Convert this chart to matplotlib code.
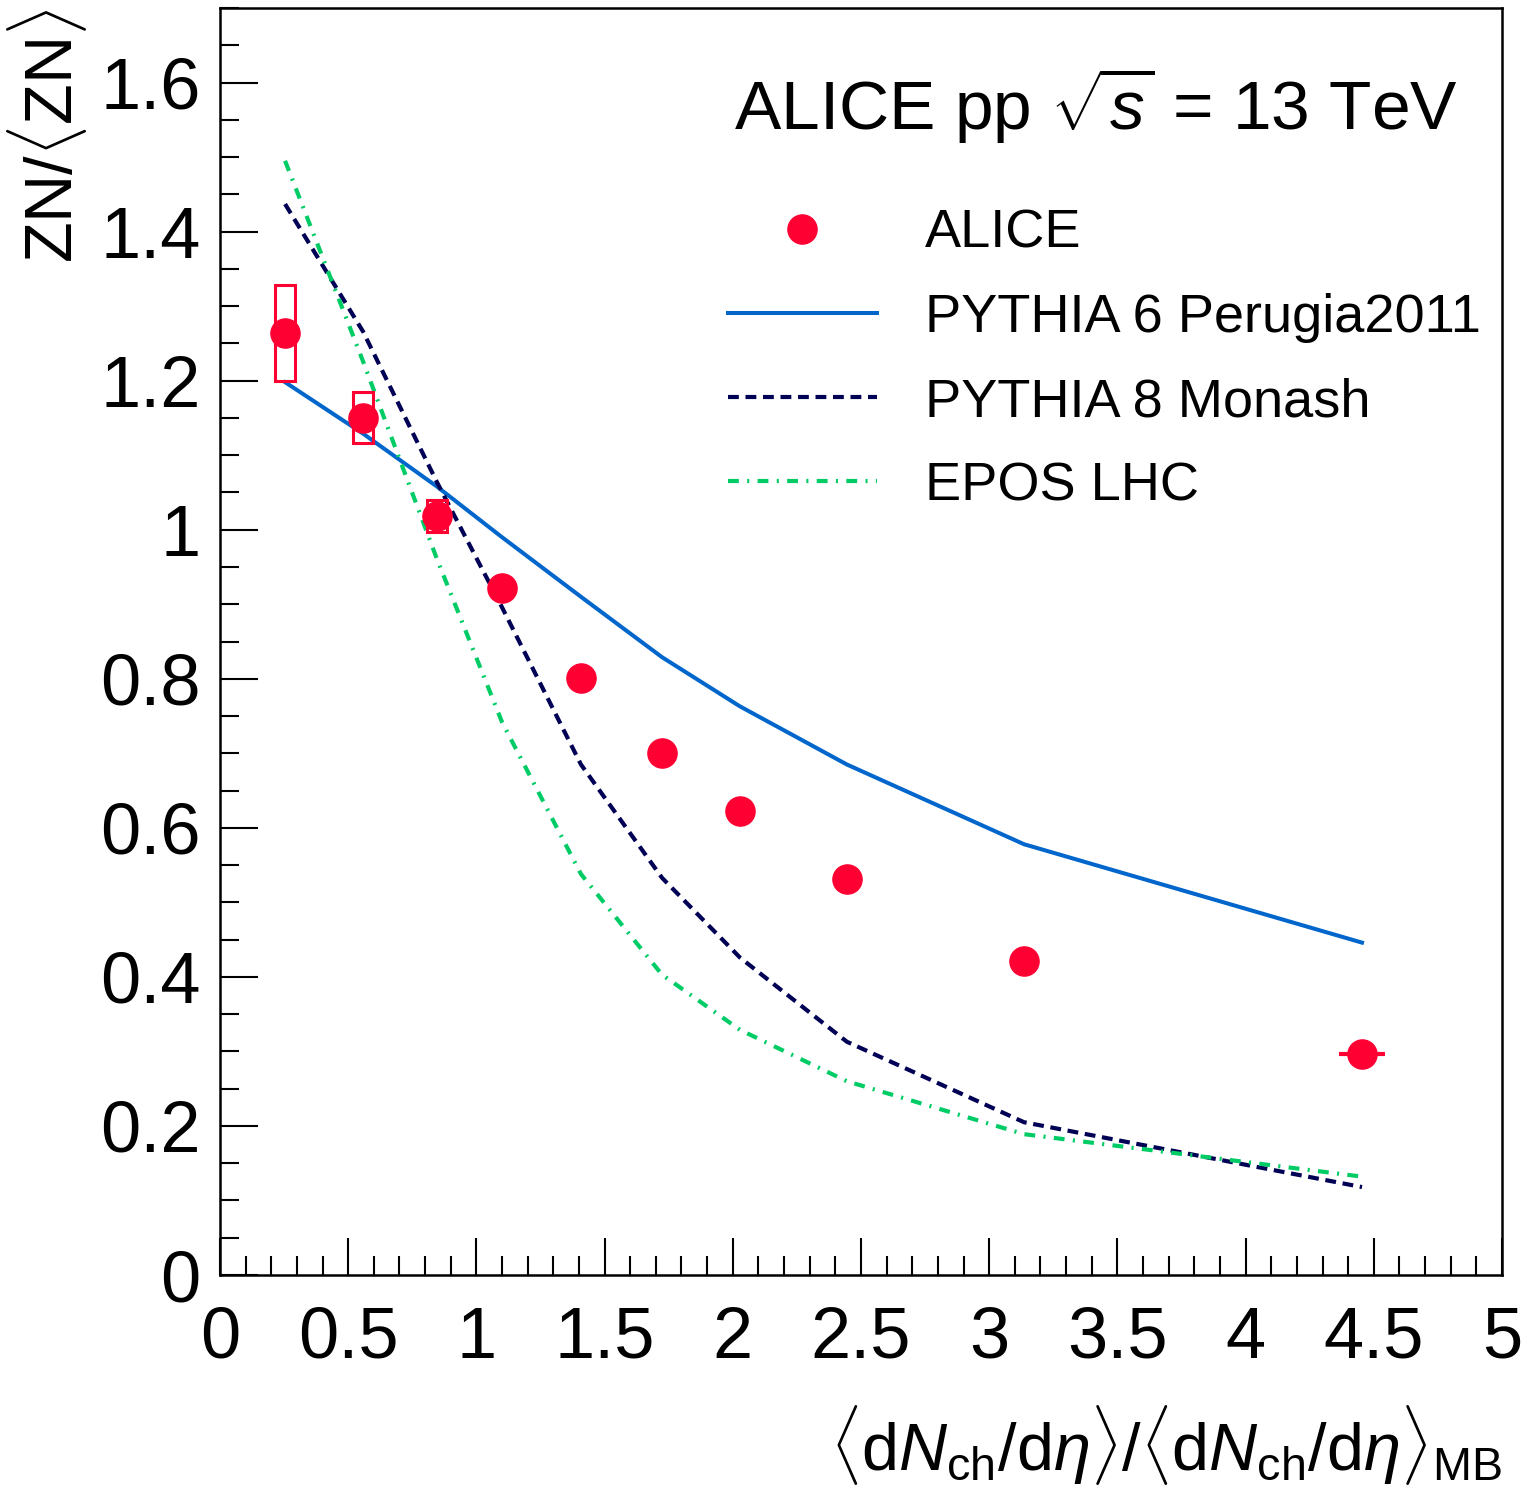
import numpy as np
import matplotlib
matplotlib.use("Agg")
import matplotlib.pyplot as plt
from matplotlib.patches import Rectangle
from matplotlib.ticker import MultipleLocator

plt.rcParams['font.family'] = ['Liberation Sans', 'DejaVu Sans']
plt.rcParams['mathtext.fontset'] = 'custom'
plt.rcParams['mathtext.rm'] = 'Liberation Sans'
plt.rcParams['mathtext.it'] = 'Liberation Sans:italic'
plt.rcParams['mathtext.sf'] = 'Liberation Sans'

# ALICE data
x_data = [0.254, 0.558, 0.846, 1.10, 1.408, 1.724, 2.028, 2.445, 3.136, 4.454]
y_data = [1.264, 1.150, 1.019, 0.922, 0.801, 0.700, 0.623, 0.531, 0.421, 0.297]
x_err = [0.0, 0.0, 0.0, 0.0, 0.0, 0.0, 0.0, 0.03, 0.04, 0.09]
sys_lo = [1.200, 1.116, 0.997, 0.912, 0.792, 0.692, 0.615, 0.522, 0.413, 0.290]
sys_hi = [1.329, 1.185, 1.040, 0.932, 0.810, 0.708, 0.631, 0.540, 0.429, 0.304]

# models
x_mod = [0.254, 0.558, 0.846, 1.10, 1.408, 1.724, 2.028, 2.445, 3.136, 4.454]
pythia6 = [1.198, 1.129, 1.058, 0.990, 0.910, 0.829, 0.763, 0.685, 0.578, 0.446]
pythia8 = [1.437, 1.266, 1.064, 0.896, 0.685, 0.533, 0.426, 0.313, 0.205, 0.118]
epos = [1.495, 1.226, 0.961, 0.742, 0.538, 0.403, 0.329, 0.260, 0.189, 0.132]

red = '#ff0033'

fig = plt.figure(figsize=(15.38, 14.85), dpi=100)
ax = fig.add_axes([0.143, 0.1414, 0.8336, 0.8532])

ax.plot(x_mod, pythia6, color='#0066cc', lw=2.9, label='PYTHIA 6 Perugia2011')
ax.plot(x_mod, pythia8, color='#000055', lw=3.0, ls=(0, (2.6, 1.6)), label='PYTHIA 8 Monash')
ax.plot(x_mod, epos, color='#00cc66', lw=3.0, ls=(0, (2.6, 2.0, 0.5, 2.0)), label='EPOS LHC')

for xi, lo, hi in zip(x_data, sys_lo, sys_hi):
    ax.add_patch(Rectangle((xi - 0.04, lo), 0.08, hi - lo, fill=False,
                           edgecolor=red, lw=2.2, zorder=3))

ax.errorbar(x_data, y_data, xerr=x_err, fmt='none', ecolor=red, lw=3,
            capsize=0, zorder=4)
ax.plot(x_data, y_data, 'o', color=red, ms=21, zorder=5, label='ALICE')

ax.set_xlim(0, 5)
ax.set_ylim(0, 1.7)
ax.xaxis.set_major_locator(MultipleLocator(0.5))
ax.xaxis.set_minor_locator(MultipleLocator(0.1))
ax.yaxis.set_major_locator(MultipleLocator(0.2))
ax.yaxis.set_minor_locator(MultipleLocator(0.05))
ax.tick_params(which='both', direction='in', top=False, right=False, width=1.5)
ax.tick_params(which='major', length=27)
ax.tick_params(which='minor', length=14)
ax.tick_params(axis='x', labelsize=52, pad=22)
ax.tick_params(axis='y', labelsize=52, pad=14)
ax.xaxis.set_major_formatter(plt.FuncFormatter(lambda v, p: f'{v:g}'))
ax.yaxis.set_major_formatter(plt.FuncFormatter(lambda v, p: f'{v:g}'))
for s in ax.spines.values():
    s.set_linewidth(1.8)

ax.set_xlabel(r'$\langle$d$N_{\rm ch}$/d$\eta\rangle$/$\langle$d$N_{\rm ch}$/d$\eta\rangle_{\rm MB}$',
              fontsize=48, ha='right', va='top')
ax.xaxis.set_label_coords(1.0, -0.101)
ax.set_ylabel(r'ZN/$\langle$ZN$\rangle$', fontsize=48, ha='right', va='center')
ax.yaxis.set_label_coords(-0.135, 1.0)

fig.text(1458 / 1538, 1 - 130 / 1485, r'ALICE pp $\sqrt{s}$ = 13 TeV',
         fontsize=50, ha='right', va='baseline')

handles, labels = ax.get_legend_handles_labels()
order = [3, 0, 1, 2]
ax.legend([handles[i] for i in order], [labels[i] for i in order],
          loc='upper left', bbox_to_anchor=(690 / 1538, 1 - 171 / 1485),
          bbox_transform=fig.transFigure, frameon=False, fontsize=39,
          handlelength=2.75, handletextpad=0.88, labelspacing=0.63,
          borderpad=0.2, numpoints=1)

fig.savefig('out.png', dpi=100)
